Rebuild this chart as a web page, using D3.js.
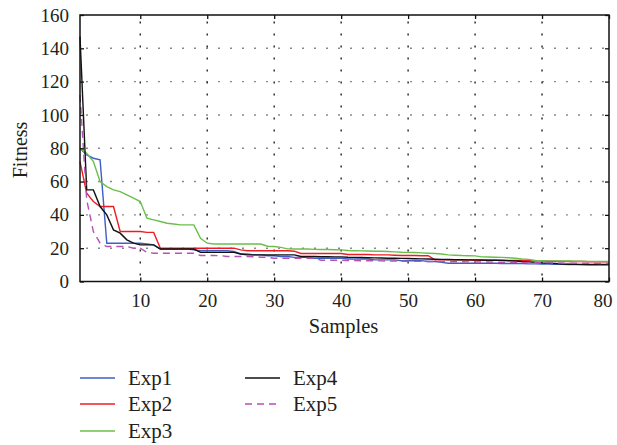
<!DOCTYPE html>
<html>
<head>
<meta charset="utf-8">
<script src="https://cdn.jsdelivr.net/npm/d3@7"></script>
<style>
  html, body { margin: 0; padding: 0; background: #fff; }
  svg { display: block; }
  text { font-family: "Liberation Serif", "DejaVu Serif", serif; fill: #231f20; }
</style>
</head>
<body>
<svg id="chart" width="617" height="445"></svg>
<script>
// ---- data ----
const samples = d3.range(1, 81);
const exp1 = [80,76,74,73,23,23,23,23,23,23,22.5,22,19.5,19.5,19.5,19.5,19.5,19,18.5,18.5,
  18.5,18.5,18.5,18,16.5,16.5,16,16,15.5,15.5,15,15,14.5,14.5,14.5,14,14,14,14,14,
  13.5,13.5,13.5,13.5,13,13,13,13,12.5,12.5,12.5,12.5,12,12,11.5,11,11,11,11,11,
  11,11,11,10.8,10.8,10.8,10.8,10.6,10.6,10.5,10.5,10.4,10.3,10.2,10.2,10.1,10.1,10,10,10];
const exp2 = [72,53,48,45,45,45,30,30,30,30,29.5,29.5,20,20,20,20,20,20,20,20,
  20,20,20,20,19,18.5,18.5,18.5,18.5,18.5,18.5,18.5,18.2,16.8,16.8,16.8,16.8,16.8,16.8,16.8,
  16.2,16.2,16.2,16.2,16,16,16,15.8,15.6,15.6,15.6,15.5,15.5,13,13,13,13,13,12.9,12.8,
  12.8,12.8,12.8,12.8,12.7,12.7,12.6,12.5,12.4,12.3,12.2,12.2,12.1,12,12,12,11.9,11.9,11.8,11.8];
const exp3 = [80,77,72,60,57,55,54,52,50,48,38,37,36,35,34.5,34,34,34,26,23,
  22.5,22.5,22.5,22.5,22.5,22.5,22.5,22.5,21.2,21,20.5,19.6,19.5,19.5,19.5,19.3,19.2,19.2,19.1,19,
  18.6,18.5,18.4,18.3,18.2,18.2,18,17.8,17.6,17.5,17.4,17.2,17,16.8,16.5,16,15.8,15.6,15.5,15.4,
  14.8,14.7,14.6,14.5,14.3,14,13.5,13.3,12.6,12.5,12.4,12.4,12.3,12.3,12.2,12.2,12.1,12.1,12,12];
const exp4 = [147,55,55,45,40,31,29,25,23,22,22,22,19.5,19.5,19.5,19.5,19.5,19.5,17.5,17.5,
  17.5,17.5,17.5,17.5,16.5,16,16,16,16,16,16,16,16,15,15,15,14.9,14.9,14.8,14.8,
  14.6,14.5,14.4,14.3,14.2,14.1,14,14,13.9,13.8,13.7,13.6,13.5,13.4,13.3,13.2,13.1,13.1,13,13,
  12.9,12.8,12.8,12.7,12.5,12.3,12,11.8,11.5,11.2,11,10.8,10.5,10.4,10.3,10.3,10.2,10.2,10.2,10.2];
const exp5 = [112,49,30,23,21,21,21,21,20,20,17.5,17,17,17,17,17,17,17,15.6,15.6,
  15.6,15.5,15,15,15,15,14.8,14.6,14.5,14,14,14,14,14,14,14,12.8,12.8,12.8,12.7,
  12.6,12.6,12.5,12.5,12.4,12.4,12.3,12.3,12.2,12.2,12.1,12.1,12,12,12,11.9,11.9,11.9,11.8,11.8,
  11.7,11.7,11.6,11.6,11.5,11.5,11.4,11.4,11.3,11.2,11.2,11.1,11.1,11,11,11,10.9,10.9,10.8,10.8];
const seriesNames = ["Exp1", "Exp2", "Exp3", "Exp4", "Exp5"];
const seriesValues = [exp1, exp2, exp3, exp4, exp5];
const xTicks = [10, 20, 30, 40, 50, 60, 70, 80];
const yTicks = [0, 20, 40, 60, 80, 100, 120, 140, 160];

// ---- styles ----
const colors = ["#3f5fc4", "#ee1c24", "#6abf4b", "#111111", "#b552b5"];
const dashes = [null, null, null, null, "7,5"];

const svg = d3.select("#chart");
const L = 80, R = 609, T = 15, B = 281.5;
const x = d3.scaleLinear().domain([1, 80]).range([L, R]);
const y = d3.scaleLinear().domain([0, 160]).range([B, T]);

// grid
const grid = svg.append("g");
grid.selectAll("line.h").data(yTicks.filter(v => v > 0 && v < 160)).join("line")
  .attr("x1", L).attr("x2", R).attr("y1", d => y(d)).attr("y2", d => y(d))
  .attr("stroke", "#8a8a8a").attr("stroke-width", 1.4).attr("stroke-dasharray", "2,10")
  .attr("stroke-dashoffset", -6);
grid.selectAll("line.v").data(xTicks.filter(v => v < 80)).join("line")
  .attr("x1", d => x(d)).attr("x2", d => x(d)).attr("y1", B).attr("y2", T)
  .attr("stroke", "#222").attr("stroke-width", 1.4).attr("stroke-dasharray", "2,10")
  .attr("stroke-dashoffset", -6);

// series
const line = d3.line().x((d, i) => x(samples[i])).y(d => y(d));
svg.append("g").selectAll("path").data(seriesValues).join("path")
  .attr("d", d => line(d))
  .attr("fill", "none")
  .attr("stroke", (d, i) => colors[i])
  .attr("stroke-width", 1.4)
  .attr("stroke-dasharray", (d, i) => dashes[i]);

// frame
svg.append("rect").attr("x", L).attr("y", T).attr("width", R - L).attr("height", B - T)
  .attr("fill", "none").attr("stroke", "#111").attr("stroke-width", 1.5);

// axes with inward ticks
const ax = svg.append("g").attr("transform", `translate(0,${B})`)
  .call(d3.axisBottom(x).tickValues(xTicks).tickSize(-4).tickPadding(12).tickFormat(d3.format("d")));
const ay = svg.append("g").attr("transform", `translate(${L},0)`)
  .call(d3.axisLeft(y).tickValues(yTicks).tickSize(-4).tickPadding(11).tickFormat(d3.format("d")));
const ayr = svg.append("g").attr("transform", `translate(${R},0)`)
  .call(d3.axisRight(y).tickValues(yTicks).tickSize(-4).tickFormat(""));
const axt = svg.append("g").attr("transform", `translate(0,${T})`)
  .call(d3.axisTop(x).tickValues(xTicks).tickSize(-4).tickFormat(""));
[ax, ay, ayr, axt].forEach(g => {
  g.select(".domain").remove();
  g.selectAll(".tick line").attr("stroke", "#111").attr("stroke-width", 1.3);
  g.selectAll("text").attr("font-size", 19).attr("font-family", "Liberation Serif").attr("fill", "#231f20");
});
// keep the last x label inside the page
ax.selectAll(".tick text").filter(d => d === 80).attr("text-anchor", "end").attr("x", 3);

// axis titles
svg.append("text").attr("x", (L + R) / 2 - 1).attr("y", 333).attr("text-anchor", "middle")
  .attr("font-size", 20.5).text("Samples");
svg.append("text").attr("transform", "translate(27,150) rotate(-90)").attr("text-anchor", "middle")
  .attr("font-size", 20).text("Fitness");

// legend
const legendPos = [[80, 378], [80, 404], [80, 431], [245, 378], [245, 404]];
const lg = svg.append("g").selectAll("g").data(seriesNames).join("g")
  .attr("transform", (d, i) => `translate(${legendPos[i][0]},${legendPos[i][1]})`);
lg.append("line").attr("x1", 0).attr("x2", 35).attr("y1", 0).attr("y2", 0)
  .attr("stroke", (d, i) => colors[i]).attr("stroke-width", 1.3)
  .attr("stroke-dasharray", (d, i) => dashes[i]);
lg.append("text").attr("x", 48).attr("y", 7).attr("font-size", 21).text(d => d);
</script>
</body>
</html>
